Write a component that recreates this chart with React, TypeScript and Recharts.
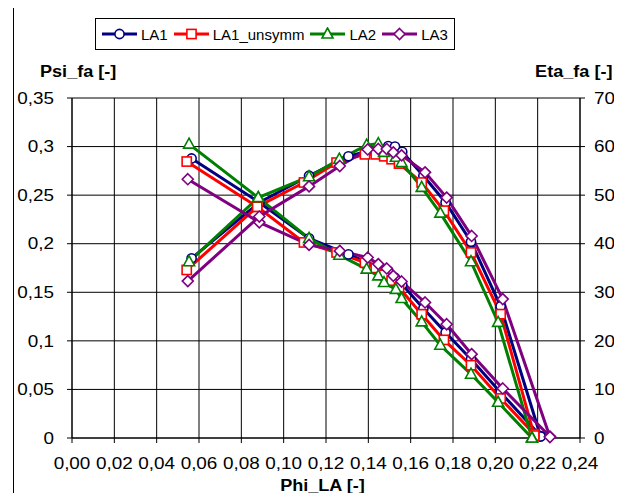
import { LineChart, Line, XAxis, YAxis, CartesianGrid } from "recharts"

// Phi_LA (x), Psi_fa (left axis), Eta_fa (right axis) per measurement series
const la1Phi = [0.0565, 0.0885, 0.112, 0.1306, 0.1494, 0.1526, 0.156, 0.166, 0.1765, 0.1885, 0.2025, 0.2214]
const la1Psi = [0.2877, 0.2425, 0.2055, 0.189, 0.172, 0.165, 0.158, 0.1333, 0.1086, 0.0811, 0.0468, 0.002]
const la1Eta = [37.0, 48.5, 54.0, 58.0, 60.1, 60.0, 58.9, 54.0, 48.5, 40.4, 27.1, 0.3]

const la1uPhi = [0.0542, 0.0875, 0.1096, 0.125, 0.1384, 0.1435, 0.1475, 0.151, 0.1545, 0.1652, 0.1757, 0.1885, 0.2025, 0.2184]
const la1uPsi = [0.2846, 0.238, 0.2013, 0.191, 0.1805, 0.175, 0.168, 0.162, 0.155, 0.1274, 0.101, 0.0749, 0.0407, 0.004]
const la1uEta = [34.6, 47.6, 52.6, 56.7, 58.4, 58.4, 58.0, 57.4, 56.5, 52.6, 46.8, 38.2, 25.5, 0.5]

const la2Phi = [0.0553, 0.088, 0.112, 0.1263, 0.1392, 0.1447, 0.1474, 0.153, 0.1557, 0.1652, 0.174, 0.1885, 0.2013, 0.2173]
const la2Psi = [0.3025, 0.2475, 0.2054, 0.1882, 0.1738, 0.1669, 0.16, 0.153, 0.1436, 0.1195, 0.0955, 0.0657, 0.0368, 0]
const la2Eta = [36.3, 49.5, 53.8, 57.4, 60.3, 60.6, 58.8, 57.8, 56.7, 51.6, 46.3, 36.3, 23.8, 0]

const la3Phi = [0.0547, 0.0885, 0.112, 0.1265, 0.1397, 0.1447, 0.1487, 0.1518, 0.1557, 0.1668, 0.177, 0.1888, 0.2035, 0.2258]
const la3Psi = [0.2664, 0.222, 0.1988, 0.1926, 0.1858, 0.179, 0.1745, 0.1669, 0.1611, 0.1395, 0.1171, 0.0863, 0.051, 0.0015]
const la3Eta = [32.3, 45.6, 51.8, 56.0, 59.4, 59.5, 59.5, 58.8, 58.2, 54.7, 49.5, 41.6, 28.6, 0.2]

const seriesNames = ["LA1", "LA1_unsymm", "LA2", "LA3"]
const xTicks = [0, 0.02, 0.04, 0.06, 0.08, 0.1, 0.12, 0.14, 0.16, 0.18, 0.2, 0.22, 0.24]
const psiTicks = [0, 0.05, 0.1, 0.15, 0.2, 0.25, 0.3, 0.35]
const etaTicks = [0, 10, 20, 30, 40, 50, 60, 70]

const rows = (phi: number[], psi: number[], eta: number[]) =>
  phi.map((x, i) => ({ x, psi: psi[i], eta: eta[i] }))

const series = [
  { name: seriesNames[0], data: rows(la1Phi, la1Psi, la1Eta), color: "#000080", shape: "circle" },
  { name: seriesNames[1], data: rows(la1uPhi, la1uPsi, la1uEta), color: "#ff0000", shape: "square" },
  { name: seriesNames[2], data: rows(la2Phi, la2Psi, la2Eta), color: "#008000", shape: "triangle" },
  { name: seriesNames[3], data: rows(la3Phi, la3Psi, la3Eta), color: "#800080", shape: "diamond" },
]

const FONT = '"Liberation Sans", Arial, sans-serif'
const STRETCH = 1.18

function Marker({ cx, cy, shape, color }: any) {
  const common = { fill: "#fff", stroke: color, strokeWidth: 1.6 }
  if (shape === "circle") return <circle cx={cx} cy={cy} r={4.6} {...common} />
  if (shape === "square") return <rect x={cx - 4.6} y={cy - 4.6} width={9.2} height={9.2} {...common} />
  if (shape === "triangle")
    return <polygon points={`${cx},${cy - 6} ${cx + 5.5},${cy + 4} ${cx - 5.5},${cy + 4}`} {...common} />
  return <polygon points={`${cx},${cy - 5.5} ${cx + 5.5},${cy} ${cx},${cy + 5.5} ${cx - 5.5},${cy}`} {...common} />
}

const fmtX = (v: number) => v.toFixed(2).replace(".", ",")
const fmtPsi = (v: number) => (v === 0 ? "0" : String(+v.toFixed(2)).replace(".", ","))
const fmtEta = (v: number) => String(v)

// excel renders the tick digits a bit wider than plain Arial
function WideTick({ x, y, payload, anchor, dy, fmt }: any) {
  return (
    <g transform={`translate(${x},${y})`}>
      <text transform={`scale(${STRETCH},1)`} textAnchor={anchor} dy={dy} fontSize={16} fill="#000">
        {fmt(payload.value)}
      </text>
    </g>
  )
}

function LegendBox() {
  return (
    <div
      style={{
        position: "absolute",
        left: 95,
        top: 18,
        height: 32,
        boxSizing: "border-box",
        border: "1px solid #000",
        display: "flex",
        alignItems: "center",
        padding: "0 0 0 6px",
        fontSize: 15,
        background: "#fff",
      }}
    >
      {series.map((s) => (
        <div key={s.name} style={{ display: "flex", alignItems: "center", marginRight: 6 }}>
          <svg width={35} height={14}>
            <line x1={0} y1={7} x2={35} y2={7} stroke={s.color} strokeWidth={3} />
            <Marker cx={17.5} cy={7} shape={s.shape} color={s.color} />
          </svg>
          <span style={{ marginLeft: 4 }}>{s.name}</span>
        </div>
      ))}
    </div>
  )
}

export default function App() {
  const label = {
    position: "absolute" as const,
    fontWeight: "bold",
    fontSize: 16,
    lineHeight: "18px",
    transform: "scaleX(1.13)",
  }
  return (
    <div
      style={{
        position: "relative",
        width: 622,
        height: 501,
        margin: -8,
        overflow: "hidden",
        background: "#fff",
        fontFamily: FONT,
        color: "#000",
      }}
    >
      <div
        style={{
          position: "absolute",
          left: 13,
          top: 7,
          width: 640,
          height: 520,
          border: "1px solid #000",
        }}
      />
      <div style={{ position: "absolute", left: 0, top: 0 }}>
        <LineChart
          width={622}
          height={501}
          margin={{ top: 98, right: 2, bottom: 13, left: 12 }}
          style={{ fontFamily: FONT }}
        >
          <CartesianGrid stroke="#000" strokeWidth={1} yAxisId="psi" />
          <XAxis
            type="number"
            dataKey="x"
            domain={[0, 0.24]}
            ticks={xTicks}
            interval={0}
            height={50}
            tickSize={5}
            tickMargin={15}
            stroke="#000"
            tick={(p: any) => <WideTick key={`x-${p.index}`} {...p} anchor="middle" dy="0.71em" fmt={fmtX} />}
            allowDataOverflow
          />
          <YAxis
            yAxisId="psi"
            domain={[0, 0.35]}
            ticks={psiTicks}
            interval={0}
            width={60}
            tickSize={5}
            tickMargin={13}
            stroke="#000"
            tick={(p: any) => <WideTick key={`l-${p.index}`} {...p} anchor="end" dy="0.355em" fmt={fmtPsi} />}
          />
          <YAxis
            yAxisId="eta"
            orientation="right"
            domain={[0, 70]}
            ticks={etaTicks}
            interval={0}
            width={40}
            tickSize={5}
            tickMargin={9}
            stroke="#000"
            tick={(p: any) => <WideTick key={`r-${p.index}`} {...p} anchor="start" dy="0.355em" fmt={fmtEta} />}
          />
          {series.flatMap((s) => [
            <Line
              key={`${s.name}-psi`}
              data={s.data}
              dataKey="psi"
              yAxisId="psi"
              name={s.name}
              stroke={s.color}
              strokeWidth={3}
              isAnimationActive={false}
              dot={(p: any) => <Marker key={`${s.name}-p-${p.index}`} cx={p.cx} cy={p.cy} shape={s.shape} color={s.color} />}
            />,
            <Line
              key={`${s.name}-eta`}
              data={s.data}
              dataKey="eta"
              yAxisId="eta"
              name={s.name}
              legendType="none"
              stroke={s.color}
              strokeWidth={3}
              isAnimationActive={false}
              dot={(p: any) => <Marker key={`${s.name}-e-${p.index}`} cx={p.cx} cy={p.cy} shape={s.shape} color={s.color} />}
            />,
          ])}
        </LineChart>
      </div>
      <LegendBox />
      <div style={{ ...label, left: 40, top: 63, transformOrigin: "left center" }}>Psi_fa [-]</div>
      <div style={{ ...label, right: 10, top: 63, transformOrigin: "right center" }}>Eta_fa [-]</div>
      <div style={{ ...label, left: 0, width: 645, textAlign: "center", top: 477 }}>Phi_LA [-]</div>
    </div>
  )
}
